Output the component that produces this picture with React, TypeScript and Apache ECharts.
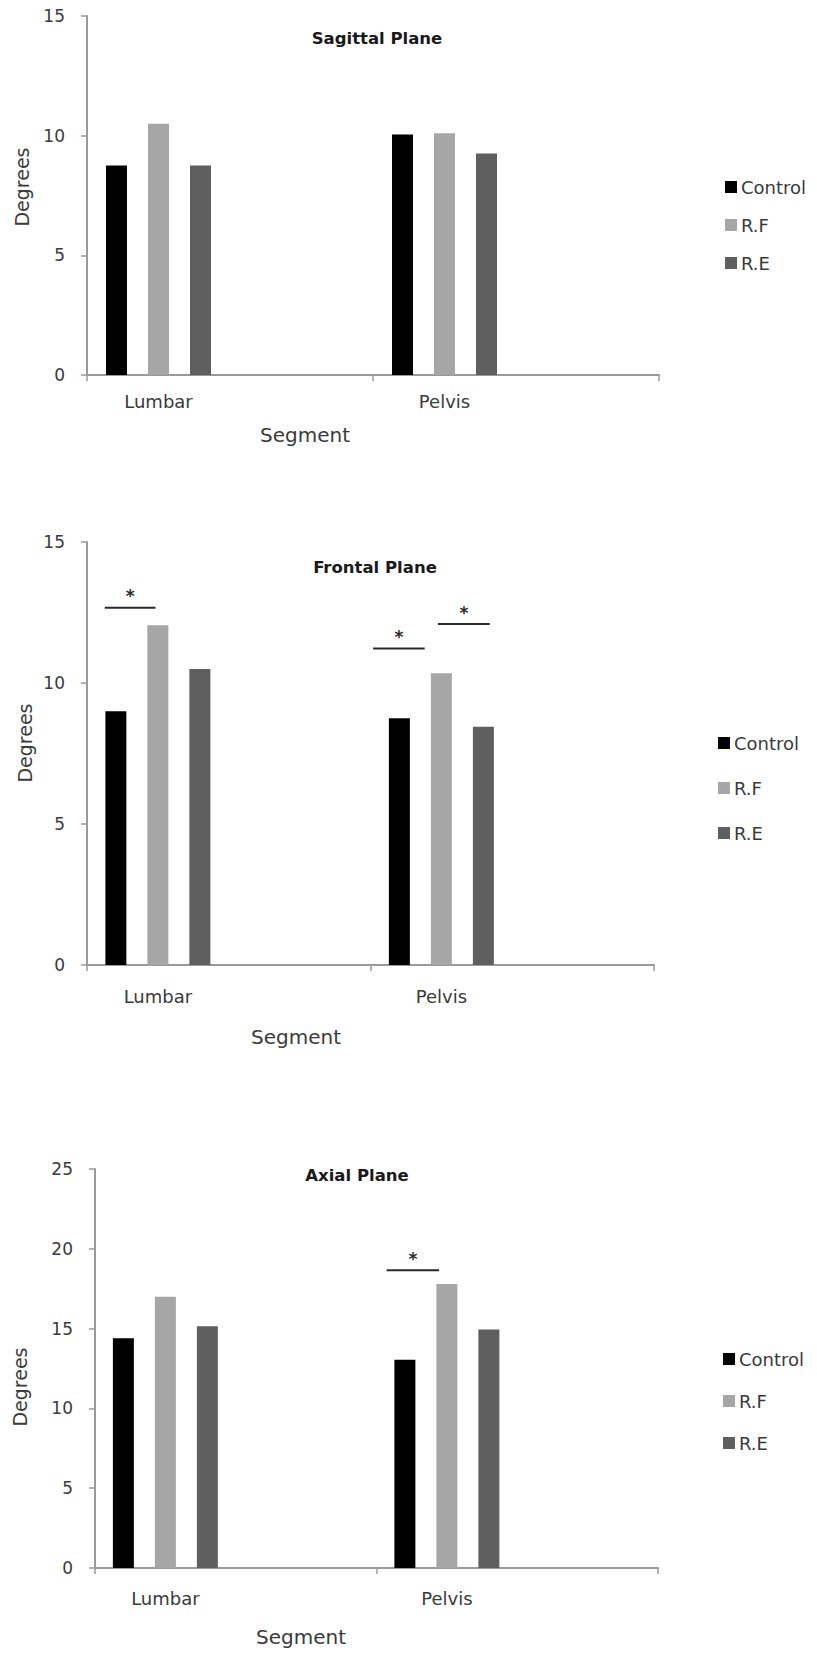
import React, { useEffect, useRef } from "react";
import * as echarts from "echarts";

// ---------- data ----------
const segments = ["Lumbar", "Pelvis"];
const seriesNames = ["Control", "R.F", "R.E"];
const planeTitles = ["Sagittal Plane", "Frontal Plane", "Axial Plane"];
const xAxisTitle = "Segment";
const yAxisTitle = "Degrees";

const sagittalControl = [8.75, 10.05];
const sagittalRF = [10.5, 10.1];
const sagittalRE = [8.75, 9.25];

const frontalControl = [9.0, 8.75];
const frontalRF = [12.05, 10.35];
const frontalRE = [10.5, 8.45];

const axialControl = [14.4, 13.05];
const axialRF = [17.0, 17.8];
const axialRE = [15.15, 14.95];

const sagittalMax = 15;
const frontalMax = 15;
const axialMax = 25;
const tickStep = 5;

// significance marks: [category slot, start, end (in category widths from slot centre), value]
const sagittalSig: number[][] = [];
const frontalSig = [
  [0, -0.375, -0.017, 12.67],
  [2, -0.482, -0.118, 11.22],
  [2, -0.024, 0.341, 12.09],
];
const axialSig = [[2, -0.428, -0.055, 18.65]];

// ---------- styles ----------
const FONT = "DejaVu Sans";
const seriesColors = ["#000000", "#a6a6a6", "#5f5f5f"];
const axisColor = "#9a9a9a";
const labelColor = "#3a3a3a";

const panels = [
  {
    title: planeTitles[0],
    values: [sagittalControl, sagittalRF, sagittalRE],
    max: sagittalMax,
    sig: sagittalSig,
    grid: { left: 87, top: 16, width: 572, height: 359 },
    xLabelMargin: 17,
    titlePos: [377, 38],
    yNamePos: [22, 187],
    xNamePos: [305, 435],
    legend: { left: 725, top: 178, gap: 20 },
  },
  {
    title: planeTitles[1],
    values: [frontalControl, frontalRF, frontalRE],
    max: frontalMax,
    sig: frontalSig,
    grid: { left: 87, top: 542, width: 567, height: 423 },
    xLabelMargin: 22,
    titlePos: [375, 567],
    yNamePos: [25, 743],
    xNamePos: [296, 1037],
    legend: { left: 718, top: 734, gap: 27 },
  },
  {
    title: planeTitles[2],
    values: [axialControl, axialRF, axialRE],
    max: axialMax,
    sig: axialSig,
    grid: { left: 95, top: 1169, width: 563, height: 399 },
    xLabelMargin: 21,
    titlePos: [357, 1175],
    yNamePos: [20, 1387],
    xNamePos: [301, 1637],
    legend: { left: 723, top: 1350, gap: 24 },
  },
];

const categorySlots = segments.flatMap((s, i) => [s, " ".repeat(i + 1)]);
const everyOther = (index: number) => index % 2 === 0;

function buildOption() {
  const grid: any[] = [];
  const xAxis: any[] = [];
  const yAxis: any[] = [];
  const series: any[] = [];
  const legend: any[] = [];
  const graphic: any[] = [];

  panels.forEach((p, gi) => {
    grid.push({ ...p.grid, containLabel: false });
    xAxis.push({
      type: "category",
      gridIndex: gi,
      data: categorySlots,
      axisLine: { show: true, lineStyle: { color: axisColor, width: 2 } },
      axisTick: { show: true, interval: everyOther, length: 6, lineStyle: { color: axisColor, width: 1.5 } },
      axisLabel: {
        interval: everyOther,
        margin: p.xLabelMargin,
        color: labelColor,
        fontSize: 18,
        fontFamily: FONT,
      },
      splitLine: { show: false },
    });
    yAxis.push({
      type: "value",
      gridIndex: gi,
      min: 0,
      max: p.max,
      interval: tickStep,
      axisLine: { show: true, lineStyle: { color: axisColor, width: 2 } },
      axisTick: { show: true, length: 6, lineStyle: { color: axisColor, width: 1.5 } },
      axisLabel: { margin: 22, color: labelColor, fontSize: 17, fontFamily: FONT },
      splitLine: { show: false },
    });
    p.values.forEach((vals, si) => {
      series.push({
        type: "bar",
        name: seriesNames[si],
        xAxisIndex: gi,
        yAxisIndex: gi,
        barWidth: 21,
        barGap: "100%",
        itemStyle: { color: seriesColors[si] },
        data: vals.flatMap((v) => [v, null]),
      });
    });
    if (p.sig.length) {
      series.push({
        type: "custom",
        name: "sig" + gi,
        xAxisIndex: gi,
        yAxisIndex: gi,
        encode: { x: 0, y: 3 },
        data: p.sig,
        z: 5,
        renderItem: (params: any, api: any) => {
          const pt = api.coord([api.value(0), api.value(3)]);
          const bw = api.size([1, 0])[0];
          const x1 = pt[0] + api.value(1) * bw;
          const x2 = pt[0] + api.value(2) * bw;
          return {
            type: "group",
            children: [
              {
                type: "line",
                shape: { x1, y1: pt[1], x2, y2: pt[1] },
                style: { stroke: "#2a2a2a", lineWidth: 2 },
              },
              {
                type: "text",
                style: {
                  text: "*",
                  x: (x1 + x2) / 2,
                  y: pt[1] - 3,
                  align: "center",
                  verticalAlign: "bottom",
                  font: `bold 17px "${FONT}"`,
                  fill: "#2a2a2a",
                },
              },
            ],
          };
        },
      });
    }
    legend.push({
      orient: "vertical",
      left: p.legend.left,
      top: p.legend.top,
      padding: 0,
      itemWidth: 12,
      itemHeight: 12,
      itemGap: p.legend.gap,
      icon: "rect",
      data: seriesNames,
      textStyle: { fontSize: 18, color: labelColor, fontFamily: FONT, padding: [0, 0, 0, -1] },
    });
    graphic.push({
      type: "text",
      x: p.titlePos[0],
      y: p.titlePos[1],
      style: {
        text: p.title,
        align: "center",
        verticalAlign: "middle",
        font: `bold 16.5px "${FONT}"`,
        fill: "#1a1a1a",
      },
    });
    graphic.push({
      type: "text",
      x: p.yNamePos[0],
      y: p.yNamePos[1],
      rotation: Math.PI / 2,
      style: {
        text: yAxisTitle,
        align: "center",
        verticalAlign: "middle",
        font: `19px "${FONT}"`,
        fill: labelColor,
      },
    });
    graphic.push({
      type: "text",
      x: p.xNamePos[0],
      y: p.xNamePos[1],
      style: {
        text: xAxisTitle,
        align: "center",
        verticalAlign: "middle",
        font: `20px "${FONT}"`,
        fill: labelColor,
      },
    });
  });

  return {
    animation: false,
    backgroundColor: "#ffffff",
    textStyle: { fontFamily: FONT },
    grid,
    xAxis,
    yAxis,
    legend,
    series,
    graphic,
  };
}

export default function App() {
  const ref = useRef<HTMLDivElement>(null);
  useEffect(() => {
    if (!ref.current) return;
    const chart = echarts.init(ref.current, undefined, { renderer: "svg" });
    chart.setOption(buildOption() as any);
    return () => chart.dispose();
  }, []);
  return (
    <div
      ref={ref}
      style={{ position: "absolute", left: 0, top: 0, width: 817, height: 1659, background: "#fff" }}
    />
  );
}
